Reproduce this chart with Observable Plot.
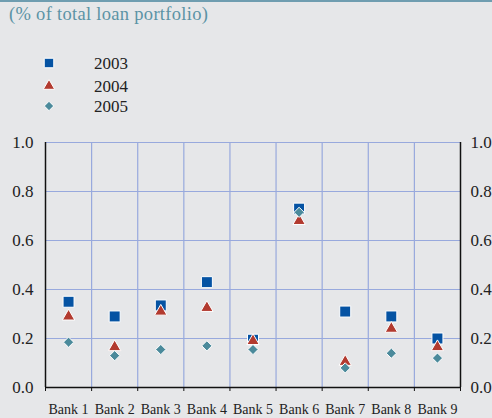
<!DOCTYPE html>
<html>
<head>
<meta charset="utf-8">
<script src="https://cdn.jsdelivr.net/npm/d3@7"></script>
<script src="https://cdn.jsdelivr.net/npm/@observablehq/plot@0.6"></script>
<style>
  html, body { margin: 0; padding: 0; }
  body { width: 492px; height: 418px; background: #e6e7e9; position: relative; overflow: hidden; font-family: "Liberation Serif", "Times New Roman", Times, "DejaVu Serif", serif; }
  #topline { position: absolute; left: 0; top: 0; width: 492px; height: 2px; background: #6f9db0; }
  #title { position: absolute; left: 9px; top: 4px; font-size: 18.5px; letter-spacing: 0.3px; color: #5b93a5; white-space: nowrap; }
  .leg { position: absolute; left: 0; height: 20px; width: 200px; }
  .leg svg { position: absolute; left: 40px; top: 0; }
  .leg span { position: absolute; left: 94px; top: 1px; font-size: 17px; color: #222; line-height: 20px; }
  #chart { position: absolute; left: 0; top: 120px; }
  #chart svg text { font-family: "Liberation Serif", "Times New Roman", Times, "DejaVu Serif", serif; }
</style>
</head>
<body>
<div id="topline"></div>
<div id="title">(% of total loan portfolio)</div>
<div id="legend"></div>
<div id="chart"></div>
<script>
const banks = ["Bank 1","Bank 2","Bank 3","Bank 4","Bank 5","Bank 6","Bank 7","Bank 8","Bank 9"];
const years = ["2003","2004","2005"];
const v2003 = [0.35, 0.29, 0.335, 0.43, 0.195, 0.73, 0.31, 0.29, 0.20];
const v2004 = [0.29, 0.165, 0.31, 0.325, 0.19, 0.68, 0.105, 0.24, 0.165];
const v2005 = [0.185, 0.13, 0.155, 0.17, 0.155, 0.715, 0.08, 0.14, 0.12];
const yTicks = [0, 0.2, 0.4, 0.6, 0.8, 1.0];

const colors = ["#0553a3", "#b23a2f", "#4b8a9b"];
const symbols = ["square", "triangle", "diamond2"];
const radii = [6.2, 4.6, 4.6];
const series = [v2003, v2004, v2005];

// legend (HTML, above the chart SVG)
const legTops = [53, 76, 96];
const legend = document.getElementById("legend");
years.forEach((y, k) => {
  const row = document.createElement("div");
  row.className = "leg";
  row.style.top = legTops[k] + "px";
  const sym = d3.symbol(
    k === 0 ? d3.symbolSquare : k === 1 ? d3.symbolTriangle : d3.symbolDiamond2,
    Math.PI * radii[k] * radii[k] * (k === 0 ? 0.75 : 0.85)
  )();
  row.innerHTML = `<svg width="20" height="20"><path transform="translate(9,10)" d="${sym}" fill="${colors[k]}" stroke="white" stroke-width="1"/></svg><span>${y}</span>`;
  legend.appendChild(row);
});

const idx = banks.map((b, i) => i);
const centers = banks.map((b, i) => i + 1);
const bounds = d3.range(0.5, 10, 1);
const inner = bounds.slice(1, -1);
const grid = "#98a9dd";
const serifStack = '"Liberation Serif", "Times New Roman", Times, "DejaVu Serif", serif';

const plot = Plot.plot({
  width: 492,
  height: 298,
  marginLeft: 45,
  marginRight: 32,
  marginTop: 22,
  marginBottom: 31,
  style: { background: "transparent", fontFamily: serifStack, fontSize: "17px", color: "#222", overflow: "visible" },
  x: { domain: [0.5, 9.5], axis: null },
  y: { domain: [0, 1], axis: null },
  marks: [
    Plot.ruleY(yTicks.filter(d => d > 0), { stroke: grid, strokeWidth: 1.2 }),
    Plot.ruleX(inner, { y1: 0, y2: 1, stroke: grid, strokeWidth: 1.2 }),
    Plot.ruleX([0.5, 9.5], { y1: 0, y2: 1, stroke: "#111", strokeWidth: 1.5 }),
    Plot.ruleY([0], { stroke: "#111", strokeWidth: 1.5 }),
    Plot.axisX({ ticks: bounds, tickSize: 4, tickFormat: () => "", stroke: "#111" }),
    Plot.axisX({ ticks: centers, tickSize: 0, tickPadding: 17, tickFormat: i => banks[i - 1], fontSize: 14 }),
    Plot.axisY({ anchor: "left", ticks: yTicks, tickSize: 0, tickPadding: 12, tickFormat: d3.format(".1f") }),
    Plot.axisY({ anchor: "right", ticks: yTicks, tickSize: 0, tickPadding: 10, tickFormat: d3.format(".1f") }),
    ...series.map((vals, k) => Plot.dot(idx, {
      x: i => i + 1,
      y: i => vals[i],
      symbol: () => symbols[k],
      r: radii[k],
      fill: colors[k],
      stroke: "white",
      strokeWidth: 1
    }))
  ]
});
document.getElementById("chart").appendChild(plot);
</script>
</body>
</html>
